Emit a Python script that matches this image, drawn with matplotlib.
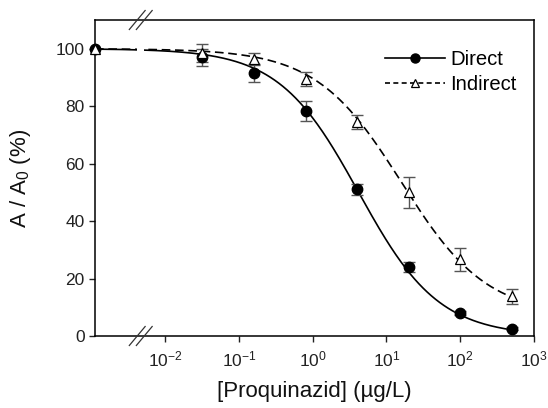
"""
竞争抑制曲线: Direct vs Indirect (Proquinazid)
"""

import numpy as np
import matplotlib
matplotlib.use('Agg')
import matplotlib.pyplot as plt
from matplotlib.lines import Line2D

# ============ 样式 ============
plt.rcParams.update({
    'font.family': ['Liberation Sans', 'DejaVu Sans'],
    'mathtext.fontset': 'custom',
    'mathtext.rm': 'Liberation Sans',
    'mathtext.it': 'Liberation Sans:italic',
    'font.size': 12,
    'axes.linewidth': 1.1,
})

# ============ 数据 ============
conc = [0.032, 0.16, 0.8, 4.0, 20.0, 100.0, 500.0]   # µg/L, 0 点另画在左边
direct_y = [97.0, 91.5, 78.3, 51.0, 24.0, 8.0, 2.5]
direct_err = [3.0, 3.2, 3.5, 2.0, 1.8, 0.6, 0.5]
indirect_y = [98.5, 96.5, 89.5, 74.5, 50.0, 26.8, 13.8]
indirect_err = [3.2, 2.0, 2.5, 2.5, 5.5, 4.0, 2.5]
zero_y = 100.0

# 4PL 拟合参数 (top, bottom, IC50, slope)
direct_fit = (100.0, 0.0, 4.2, 0.8)
indirect_fit = (100.0, 7.0, 16.0, 0.75)

x_left = 10 ** -2.95
x_right = 1e3
x_break = 10 ** -2.33


def four_pl(x, top, bottom, c, s):
    return bottom + (top - bottom) / (1.0 + (x / c) ** s)


fig = plt.figure(figsize=(5.48, 4.08), dpi=100)
ax = fig.add_axes([95 / 548, 1 - 336 / 408, 439 / 548, 316 / 408])
ax.set_xscale('log')

# 拟合曲线
x_fit = np.logspace(np.log10(x_left), np.log10(conc[-1]), 400)
ax.plot(x_fit, four_pl(x_fit, *direct_fit), '-', color='black', lw=1.2, zorder=2)
ax.plot(x_fit, four_pl(x_fit, *indirect_fit), color='black', lw=1.2,
        dashes=(5.2, 2.8), zorder=2)

# 误差棒 + 数据点
ax.errorbar(conc, direct_y, yerr=direct_err, fmt='none', ecolor='#555555',
            elinewidth=1.0, capsize=4, capthick=1.0, zorder=3)
ax.errorbar(conc, indirect_y, yerr=indirect_err, fmt='none', ecolor='#555555',
            elinewidth=1.0, capsize=4, capthick=1.0, zorder=3)
ax.plot(conc, direct_y, 'o', color='black', markersize=7.5, zorder=4)
ax.plot(conc, indirect_y, '^', markerfacecolor='white', markeredgecolor='black',
        markeredgewidth=0.9, markersize=7.5, zorder=5)

# 0 浓度点 (画在左侧边界)
ax.plot([x_left], [zero_y], 'o', color='black', markersize=7.5, zorder=6, clip_on=False)
ax.plot([x_left], [zero_y], '^', markerfacecolor='white', markeredgecolor='black',
        markeredgewidth=0.9, markersize=7.5, zorder=7, clip_on=False)

ax.set_xlim(x_left, x_right)
ax.set_ylim(0, 110)
ax.set_yticks([0, 20, 40, 60, 80, 100])
ax.set_xticks([1e-2, 1e-1, 1e0, 1e1, 1e2, 1e3])
ax.set_xticklabels([r'10$^{\mathregular{-2}}$', r'10$^{\mathregular{-1}}$',
                    r'10$^{\mathregular{0}}$', r'10$^{\mathregular{1}}$',
                    r'10$^{\mathregular{2}}$', r'10$^{\mathregular{3}}$'])
ax.xaxis.set_minor_locator(matplotlib.ticker.NullLocator())
ax.tick_params(axis='both', which='major', direction='out', length=4, width=1.0,
               labelsize=12.5, colors='#222222')
ax.tick_params(axis='x', pad=6)

ax.set_xlabel('[Proquinazid] (\u00b5g/L)', fontsize=16, color='#111111')
ax.set_ylabel(r'A / A$_\mathregular{0}$ (%)', fontsize=16, color='#111111')
ax.xaxis.set_label_coords(0.5, -0.142)
ax.yaxis.set_label_coords(-0.141, 0.5)

# 轴断开符号 //
trans = ax.transAxes
bx = (np.log10(x_break) - np.log10(x_left)) / (3 - np.log10(x_left))
ax.add_patch(plt.Rectangle((bx - 0.008, 0.003), 0.016, 0.994, transform=trans,
                           facecolor='white', edgecolor='none', zorder=2.2))
for yb in (0.0, 1.0):
    for dx in (-0.008, 0.008):
        ax.add_line(Line2D([bx + dx - 0.018, bx + dx + 0.018], [yb - 0.03, yb + 0.03],
                           transform=trans, color='#333333', lw=0.9, clip_on=False, zorder=9))

# 图例
h1 = Line2D([], [], color='black', lw=1.2, marker='o', markersize=6.5)
h2 = Line2D([], [], color='black', lw=1.2, dashes=(3.0, 2.0), marker='^',
            markerfacecolor='white', markeredgewidth=0.9, markersize=5.5)
ax.legend([h1, h2], ['Direct', 'Indirect'], loc='upper right', frameon=False,
          fontsize=14.6, handlelength=2.95, handletextpad=0.25, labelspacing=0.28,
          borderaxespad=0, bbox_to_anchor=(0.979, 0.93))

fig.savefig('out.png', dpi=100, facecolor='white')
